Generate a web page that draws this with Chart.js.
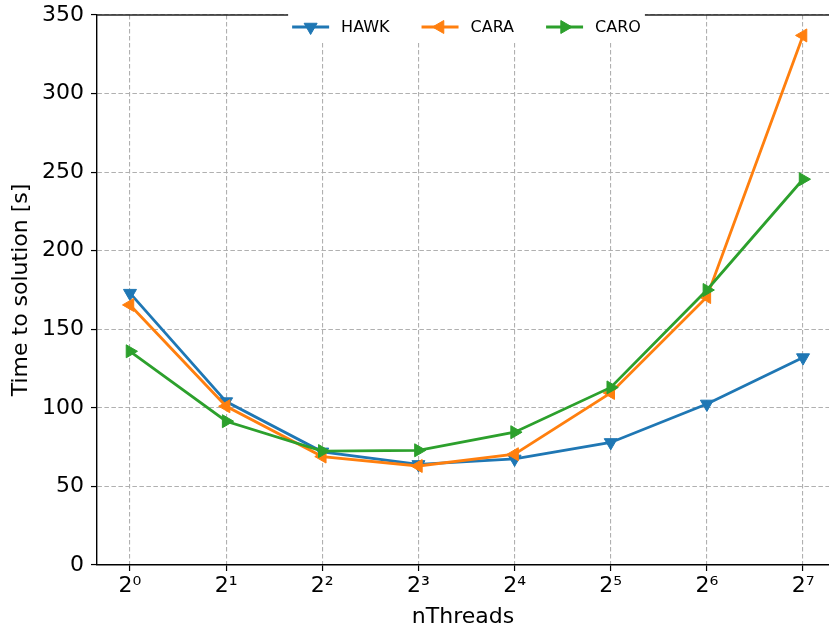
<!DOCTYPE html>
<html>
<head>
<meta charset="utf-8">
<script src="https://cdn.jsdelivr.net/npm/chart.js@4.4.1/dist/chart.umd.min.js"></script>
<style>
  html, body { margin: 0; padding: 0; background: #fff; overflow: hidden; }
</style>
</head>
<body>
<canvas id="timing" width="829" height="628"></canvas>
<script>
// log2 of the thread count, drawn as 2^n
const exponents = [0, 1, 2, 3, 4, 5, 6, 7];
const tickLabels = ['2⁰', '2¹', '2²', '2³', '2⁴', '2⁵', '2⁶', '2⁷'];
const seriesNames = ['HAWK', 'CARA', 'CARO'];

// time to solution in seconds
const hawk = [173, 104, 72, 64, 67.5, 78, 102.5, 132];
const cara = [165.5, 101, 69, 63, 70.5, 109.5, 170.5, 337];
const caro = [136, 91.5, 72.5, 73, 84.5, 113, 175, 245.5];

const colors = ['#1f77b4', '#ff7f0e', '#2ca02c'];
// marker direction: down, left, right
const rotations = [180, 270, 90];
const font = 'DejaVu Sans';
const markerRadius = 7.5;

function toPoints(values) {
    return exponents.map((e, i) => ({x: e, y: values[i]}));
}

function triangle(ctx, x, y, r, rotation) {
    let rad = rotation * Math.PI / 180;
    ctx.beginPath();
    for (let k = 0; k < 3; k++) {
        const px = x + Math.sin(rad) * r, py = y - Math.cos(rad) * r;
        if (k === 0) ctx.moveTo(px, py); else ctx.lineTo(px, py);
        rad += 2 * Math.PI / 3;
    }
    ctx.closePath();
    ctx.fill();
    ctx.stroke();
}

// top spine and the legend box that sits over it
const frameAndLegend = {
    id: 'frameAndLegend',
    afterDraw(chart) {
        const ctx = chart.ctx;
        const area = chart.chartArea;
        ctx.save();
        ctx.strokeStyle = '#222';
        ctx.lineWidth = 1.4;
        ctx.beginPath();
        ctx.moveTo(area.left, area.top);
        ctx.lineTo(area.right, area.top);
        ctx.stroke();

        ctx.font = '16px "' + font + '"';
        const handle = 37, textGap = 12, itemGap = 32;
        const widths = seriesNames.map(n => ctx.measureText(n).width);
        let total = 0;
        widths.forEach((w, i) => { total += handle + textGap + w + (i < widths.length - 1 ? itemGap : 0); });
        const center = chart.scales.x.getPixelForValue(3.5);
        let x = center - total / 2;
        const y = 27;

        ctx.fillStyle = '#fff';
        ctx.fillRect(x - 4, 4, total + 8, 37);

        seriesNames.forEach((name, i) => {
            ctx.strokeStyle = colors[i];
            ctx.fillStyle = colors[i];
            ctx.lineWidth = 2.8;
            ctx.beginPath();
            ctx.moveTo(x, y);
            ctx.lineTo(x + handle, y);
            ctx.stroke();
            ctx.lineWidth = 1;
            triangle(ctx, x + handle / 2, y, markerRadius, rotations[i]);
            ctx.fillStyle = '#000';
            ctx.textBaseline = 'middle';
            ctx.textAlign = 'left';
            ctx.fillText(name, x + handle + textGap, y + 1);
            x += handle + textGap + widths[i] + itemGap;
        });
        ctx.restore();
    }
};

const seriesValues = [hawk, cara, caro];
const datasets = seriesNames.map((name, i) => ({
    label: name,
    data: toPoints(seriesValues[i]),
    borderColor: colors[i],
    backgroundColor: colors[i],
    borderWidth: 2.8,
    pointStyle: 'triangle',
    pointRotation: rotations[i],
    pointRadius: markerRadius,
    pointBorderWidth: 1,
    // later series on top, like matplotlib
    order: seriesNames.length - i
}));

const gridStyle = {
    color: '#b0b0b0',
    lineWidth: 1.1,
    tickColor: '#000',
    tickLength: 6,
    tickWidth: 1.2,
    tickBorderDash: []
};
// in Chart.js v4 border.dash is the dash of the grid lines
const borderStyle = {color: '#000', width: 1.4, dash: [4.5, 2.5]};

new Chart(document.getElementById('timing').getContext('2d'), {
    type: 'line',
    data: {datasets: datasets},
    plugins: [frameAndLegend],
    options: {
        responsive: false,
        animation: false,
        layout: {autoPadding: false, padding: {top: 15, right: 0, bottom: 0, left: 0}},
        plugins: {legend: {display: false}, tooltip: {enabled: false}},
        scales: {
            x: {
                type: 'linear',
                min: -0.343,
                max: 7.27,
                afterBuildTicks: s => { s.ticks = exponents.map(v => ({value: v})); },
                afterFit: s => { s.height = 63; s.paddingLeft = 0; s.paddingRight = 0; },
                grid: gridStyle,
                border: borderStyle,
                ticks: {
                    padding: 2,
                    color: '#000',
                    font: {family: font, size: 22},
                    callback: v => tickLabels[exponents.indexOf(v)]
                },
                title: {
                    display: true,
                    text: 'nThreads',
                    color: '#000',
                    font: {family: font, size: 22, lineHeight: 1},
                    padding: {top: 0, bottom: 0}
                }
            },
            y: {
                min: 0,
                max: 350,
                afterFit: s => { s.width = 97; s.paddingTop = 0; s.paddingBottom = 0; },
                grid: gridStyle,
                border: borderStyle,
                ticks: {
                    stepSize: 50,
                    padding: 7,
                    color: '#000',
                    font: {family: font, size: 22}
                },
                title: {
                    display: true,
                    text: 'Time to solution [s]',
                    color: '#000',
                    font: {family: font, size: 22, lineHeight: 1},
                    padding: {top: 10, bottom: 0}
                }
            }
        }
    }
});
</script>
</body>
</html>
